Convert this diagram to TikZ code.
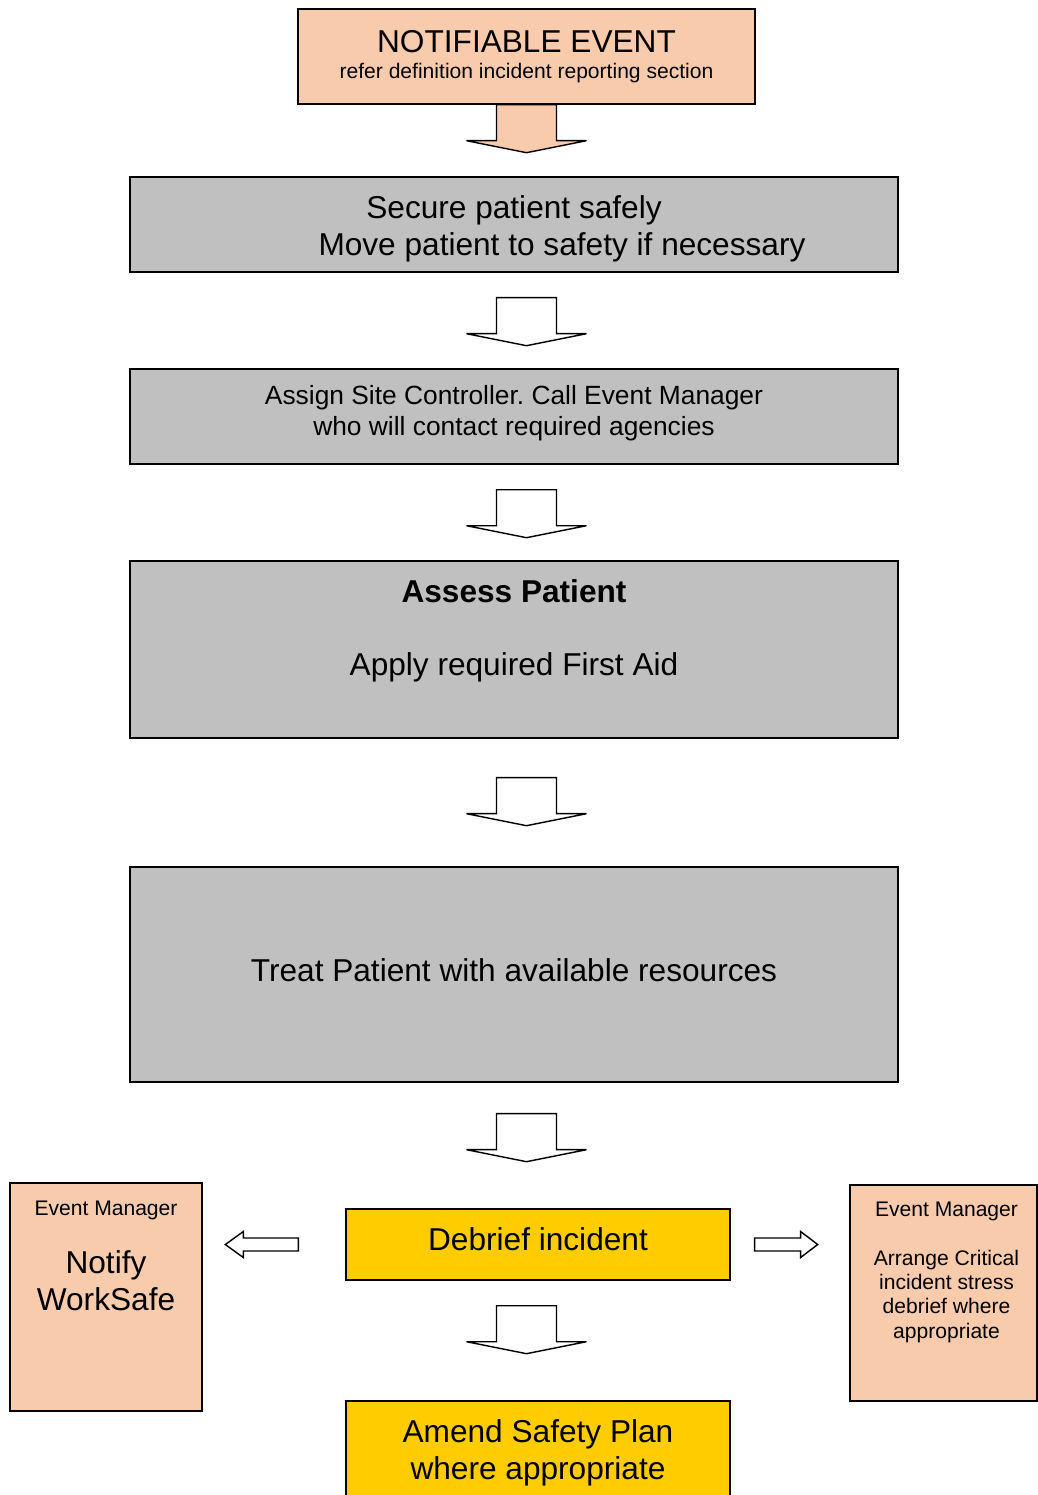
\documentclass[tikz,border=0pt]{standalone}
\usepackage{fontspec}
\setmainfont{Liberation Sans}
\usetikzlibrary{positioning,calc}
\frenchspacing

\definecolor{peach}{RGB}{248,203,173}
\definecolor{boxgrey}{RGB}{192,192,192}
\definecolor{gold}{RGB}{255,204,0}

\tikzset{
  box/.style={draw, line width=0.8pt, inner sep=0pt},
  peachbox/.style={box, fill=peach},
  greybox/.style={box, fill=boxgrey},
  goldbox/.style={box, fill=gold},
  big/.style={font=\fontsize{18}{21}\selectfont, align=center},
  mid/.style={font=\fontsize{15}{17.5}\selectfont, align=center},
  small/.style={font=\fontsize{12}{13.7}\selectfont, align=center},
  blockarrow/.style={draw, line width=0.8pt, line join=miter}
}

% block arrow pointing down, #2 = top centre
\newcommand{\flowarrow}[2]{%
  \draw[blockarrow, fill=#1] ($#2+(-30,0)$) -- ++(60,0) -- ++(0,36) -- ++(30,0)
    -- ++(-60,12) -- ++(-60,-12) -- ++(30,0) -- cycle;}

\begin{document}
\begin{tikzpicture}[x=0.02cm,y=-0.02cm]
\useasboundingbox (0,0) rectangle (1038,1495);

% boxes
\node[peachbox, minimum width=9.14cm, minimum height=1.9cm] (event) at (526.5,56.5) {};
\node[greybox, minimum width=15.36cm, minimum height=1.9cm] (secure) at (514,224.5) {};
\node[greybox, minimum width=15.36cm, minimum height=1.9cm] (assign) at (514,416.5) {};
\node[greybox, minimum width=15.36cm, minimum height=3.54cm] (assess) at (514,649.5) {};
\node[greybox, minimum width=15.36cm, minimum height=4.3cm] (treat) at (514,974.5) {};
\node[goldbox, minimum width=7.68cm, minimum height=1.42cm] (debrief) at (538,1244.5) {};
\node[goldbox, minimum width=7.68cm, minimum height=1.98cm] (amend) at (538,1450.5) {};
\node[peachbox, minimum width=3.84cm, minimum height=4.56cm] (notify) at (106,1297) {};
\node[peachbox, minimum width=3.74cm, minimum height=4.32cm] (stress) at (943.5,1293) {};

% texts
\node[align=center] (eventtext) at (event)
  {{\fontsize{18}{20}\selectfont NOTIFIABLE EVENT}\\[2.8pt]
   {\fontsize{12}{14}\selectfont refer definition incident reporting section}};
\node[big] (securetext) at ($(secure)+(0,4)$)
  {Secure patient safely\\\hspace*{54.6pt}Move patient to safety if necessary};
\node[mid] (assigntext) at ($(assign)+(0,-3)$)
  {Assign Site Controller. Call Event Manager\\who will contact required agencies};
\node[big, anchor=north] (assesstext) at ($(assess.north)+(0,13)$)
  {\textbf{Assess Patient}\\[20.5pt]Apply required First Aid};
\node[big] (treattext) at ($(treat)+(0,-4)$) {Treat Patient with available resources};
\node[big] (debrieftext) at ($(debrief)+(0,-5)$) {Debrief incident};
\node[big] (amendtext) at ($(amend)+(0,2)$) {Amend Safety Plan\\where appropriate};

\node[small, anchor=north] (notifyrole) at ($(notify.north)+(0,12)$) {Event Manager};
\node[big, anchor=north] (notifytask) at ($(notify.north)+(0,62)$) {Notify\\WorkSafe};

\node[small, anchor=north] (stressrole) at ($(stress.north)+(3,11)$) {Event Manager};
\node[small, anchor=north] (stresstask) at ($(stress.north)+(3,60)$)
  {Arrange Critical\\incident stress\\debrief where\\appropriate};

% arrows
\coordinate (a2) at ($(secure.south -| event.south)+(0,25)$);
\coordinate (a3) at ($(assign.south -| event.south)+(0,25)$);
\coordinate (a4) at ($(assess.south -| event.south)+(0,39)$);
\coordinate (a5) at ($(treat.south -| event.south)+(0,31)$);
\coordinate (a6) at ($(debrief.south -| event.south)+(0,25)$);

\flowarrow{peach}{(event.south)}
\flowarrow{white}{(a2)}
\flowarrow{white}{(a3)}
\flowarrow{white}{(a4)}
\flowarrow{white}{(a5)}
\flowarrow{white}{(a6)}

% side arrows from the debrief box
\draw[blockarrow, fill=white] ($(debrief.west)+(-47,-6.5)$) -- ++(-55,0) -- ++(0,-6.5)
  -- ++(-18,13) -- ++(18,13) -- ++(0,-6.5) -- ++(55,0) -- cycle;
\draw[blockarrow, fill=white] ($(debrief.east)+(24,-6.5)$) -- ++(46,0) -- ++(0,-6.5)
  -- ++(17,13) -- ++(-17,13) -- ++(0,-6.5) -- ++(-46,0) -- cycle;

\end{tikzpicture}
\end{document}
